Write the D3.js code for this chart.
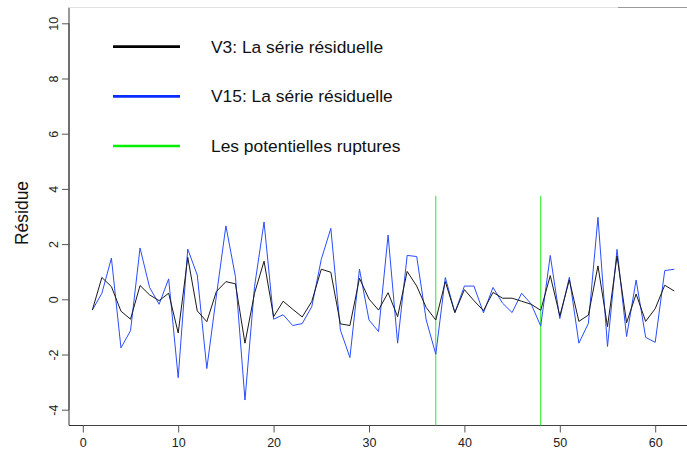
<!DOCTYPE html>
<html><head><meta charset="utf-8">
<script src="https://cdn.jsdelivr.net/npm/d3@7"></script>
<style>html,body{margin:0;padding:0;background:#fff;} svg{display:block;font-family:"Liberation Sans",Arial,sans-serif;}</style>
</head><body>
<script>
const v3 = [-0.39,0.79,0.46,-0.43,-0.72,0.50,0.16,-0.05,0.22,-1.22,1.52,-0.42,-0.81,0.28,0.64,
  0.56,-1.59,0.22,1.38,-0.63,-0.07,-0.36,-0.64,-0.08,1.09,0.98,-0.89,-0.95,0.76,0.01,-0.39,0.24,
  -0.63,1.01,0.48,-0.30,-0.75,0.64,-0.48,0.35,-0.05,-0.41,0.25,0.04,0.04,-0.07,-0.18,-0.40,
  0.86,-0.60,0.70,-0.80,-0.57,1.21,-0.99,1.57,-0.85,0.19,-0.80,-0.34,0.51,0.30];
const v15 = [-0.39,0.22,1.49,-1.76,-1.14,1.86,0.43,-0.18,0.74,-2.84,1.82,0.88,-2.51,0.12,2.66,
  0.82,-3.65,0.46,2.80,-0.72,-0.56,-0.95,-0.88,-0.27,1.45,2.57,-1.11,-2.11,1.09,-0.75,-1.17,2.33,
  -1.59,1.59,1.55,-0.75,-1.99,0.79,-0.48,0.48,0.48,-0.49,0.43,-0.14,-0.48,0.22,-0.17,-0.97,
  1.59,-0.70,0.80,-1.59,-0.87,2.97,-1.71,1.81,-1.35,0.70,-1.38,-1.56,1.04,1.09];
const ruptures = [37, 48];
const ruptureTop = 3.75;
const xTicks = [0,10,20,30,40,50,60];
const yTicks = [-4,-2,0,2,4,6,8,10];
const legendLabels = ["V3: La série résiduelle","V15: La série résiduelle","Les potentielles ruptures"];
const legendColors = ["#000000","#0a2cff","#00ee00"];
const yLabel = "Résidue";

const W = 687, H = 457;
const svg = d3.select("body").append("svg").attr("width", W).attr("height", H);
const x = d3.scaleLinear().domain([0, 60]).range([82.8, 655.2]);
const y = d3.scaleLinear().domain([-4, 10]).range([409.7, 23.3]);
const L = 69, R = 698, T = 7.5, B = 425.5;
const fmt = d => String(d);

// box
svg.append("line").attr("x1", L).attr("x2", L).attr("y1", T).attr("y2", B).attr("stroke", "#333");
svg.append("line").attr("x1", L).attr("x2", R).attr("y1", B).attr("y2", B).attr("stroke", "#333");
svg.append("line").attr("x1", L).attr("x2", R).attr("y1", T).attr("y2", T).attr("stroke", "#e2e2e2");
svg.append("line").attr("x1", 618).attr("x2", R).attr("y1", T).attr("y2", T).attr("stroke", "#999");

// x axis
const xa = svg.append("g").attr("transform", `translate(0,${B})`)
  .call(d3.axisBottom(x).tickValues(xTicks).tickFormat(fmt).tickSize(7).tickPadding(6).tickSizeOuter(0));
xa.select(".domain").attr("stroke", "#444").attr("d", `M${x(0)},0H${x(60)}`);
xa.selectAll(".tick line").attr("stroke", "#555");
xa.selectAll(".tick text").attr("font-size", 12.5).attr("fill", "#222").attr("font-family", "Liberation Sans, Arial, sans-serif");

// y axis
const ya = svg.append("g").attr("transform", `translate(${L},0)`)
  .call(d3.axisLeft(y).tickValues(yTicks).tickFormat(fmt).tickSize(7).tickSizeOuter(0));
ya.select(".domain").attr("stroke", "#444").attr("d", `M0,${y(-4)}V${y(10)}`);
ya.selectAll(".tick line").attr("stroke", "#555");
ya.selectAll(".tick text").attr("font-size", 12.5).attr("fill", "#222")
  .attr("font-family", "Liberation Sans, Arial, sans-serif")
  .attr("text-anchor", "middle").attr("x", 0).attr("dy", 0)
  .attr("transform", "translate(-15,0) rotate(-90)").attr("dominant-baseline", "central");

svg.append("text").attr("transform", "translate(22,213) rotate(-90)")
  .attr("text-anchor", "middle").attr("dominant-baseline", "central")
  .attr("font-size", 17.5).attr("fill", "#111").text(yLabel);

// rupture lines
svg.selectAll("line.rup").data(ruptures).join("line").attr("class", "rup")
  .attr("x1", d => x(d)).attr("x2", d => x(d)).attr("y1", y(ruptureTop)).attr("y2", B)
  .attr("stroke", "#22ee22").attr("stroke-width", 1);

const line = d3.line().x((d, i) => x(i + 1)).y(d => y(d));
svg.append("path").datum(v15).attr("d", line).attr("fill", "none").attr("stroke", "#2a4dff").attr("stroke-width", 1);
svg.append("path").datum(v3).attr("d", line).attr("fill", "none").attr("stroke", "#1a1a1a").attr("stroke-width", 1);

// legend
const lg = svg.append("g");
const ly = [46.7, 96.3, 146];
legendLabels.forEach((t, i) => {
  lg.append("line").attr("x1", 113).attr("x2", 180).attr("y1", ly[i]).attr("y2", ly[i])
    .attr("stroke", legendColors[i]).attr("stroke-width", 2.7);
  lg.append("text").attr("x", 211).attr("y", ly[i]).attr("dominant-baseline", "central")
    .attr("font-size", 17.4).attr("fill", "#111").text(t);
});
</script>
</body></html>
